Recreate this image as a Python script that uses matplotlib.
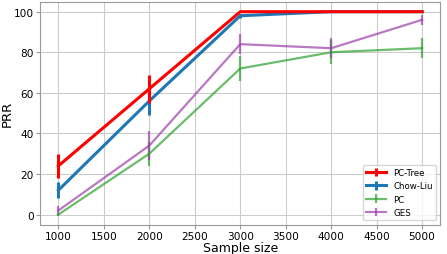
import numpy as np
import matplotlib
matplotlib.use('Agg')
import matplotlib.pyplot as plt

# Sample sizes
sample_sizes = [1000, 2000, 3000, 4000, 5000]

# PRR means and error bars per method
pc_tree = [24, 62, 100, 100, 100]
pc_tree_err = [6, 7, 0, 0, 0]
chow_liu = [12, 56, 98, 100, 100]
chow_liu_err = [4, 7, 1, 0, 0]
pc = [0, 30, 72, 80, 82]
pc_err = [0.5, 6, 6, 6, 5]
ges = [2, 34, 84, 82, 96]
ges_err = [2, 7, 5, 5, 2.5]

fig, ax = plt.subplots(figsize=(4.47, 2.55), dpi=100)

ax.errorbar(sample_sizes, pc_tree, yerr=pc_tree_err, color='red', lw=2.2, label='PC-Tree', zorder=5)
ax.errorbar(sample_sizes, chow_liu, yerr=chow_liu_err, color='#1f77b4', lw=2.2, label='Chow-Liu', zorder=4)
ax.errorbar(sample_sizes, pc, yerr=pc_err, color='#2ca02c', lw=1.6, alpha=0.7, label='PC', zorder=3)
ax.errorbar(sample_sizes, ges, yerr=ges_err, color='#9b3fa8', lw=1.6, alpha=0.7, label='GES', zorder=3)

ax.set_xlabel('Sample size', fontsize=9, labelpad=0)
ax.set_ylabel('PRR', fontsize=9.5, labelpad=0)
ax.set_xticks([1000, 1500, 2000, 2500, 3000, 3500, 4000, 4500, 5000])
ax.set_yticks([0, 20, 40, 60, 80, 100])
ax.tick_params(labelsize=7.6, pad=1.5, length=3, color='#999999')
ax.set_xlim(800, 5200)
ax.set_ylim(-5, 105)
ax.grid(True, color='#cccccc', lw=0.8)
for s in ax.spines.values():
    s.set_color('#999999')
ax.legend(loc='lower right', fontsize=6.2, framealpha=0.8, handlelength=2.3)

plt.subplots_adjust(left=0.09, right=0.985, bottom=0.115, top=0.99)
plt.savefig('out.png', dpi=100)
